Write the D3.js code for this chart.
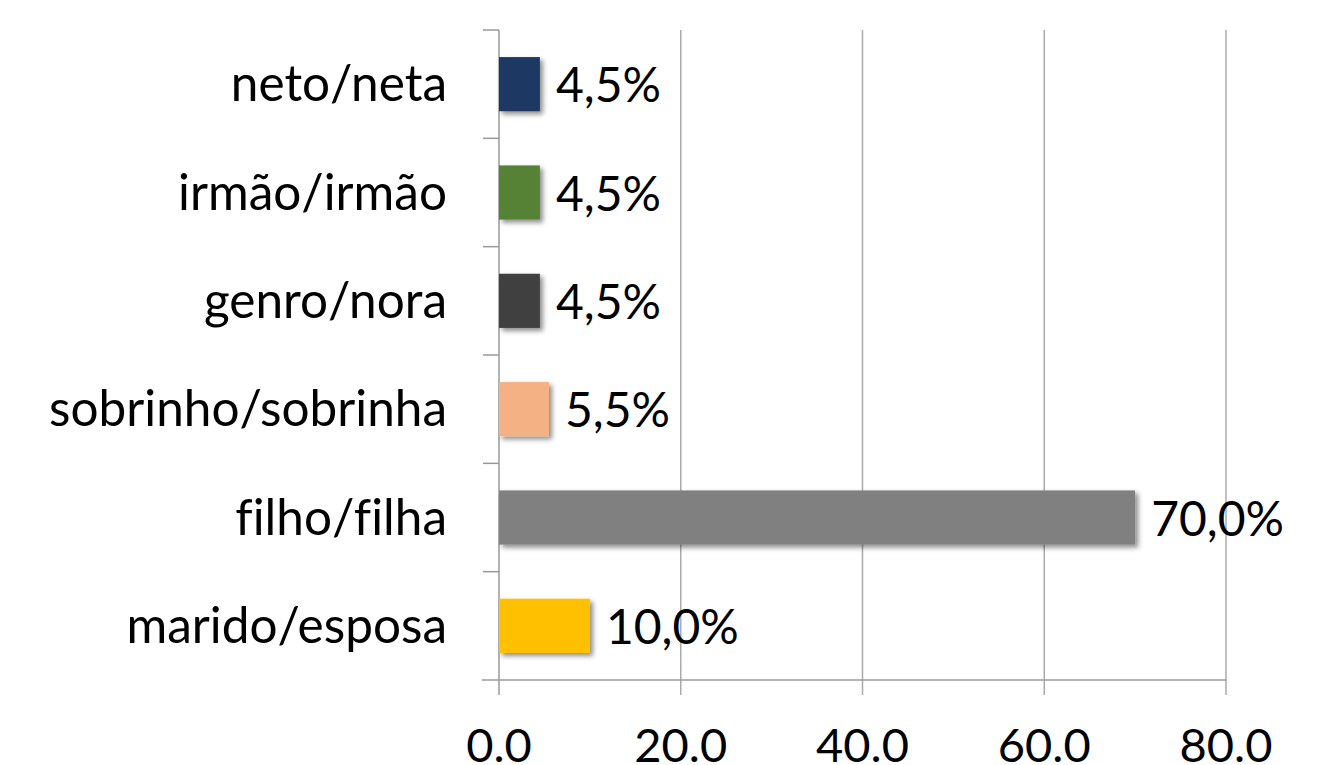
<!DOCTYPE html>
<html><head><meta charset="utf-8">
<script src="https://cdn.jsdelivr.net/npm/d3@7"></script>
<style>body{margin:0;background:#fff;}svg{display:block;}text{font-variant-ligatures:none;}</style>
</head><body>
<svg id="c" width="1319" height="765"></svg>
<script>
const categories = ["neto/neta","irmão/irmão","genro/nora","sobrinho/sobrinha","filho/filha","marido/esposa"];
const values = [4.5, 4.5, 4.5, 5.5, 70.0, 10.0];
const colors = ["#1F3864","#548235","#404040","#F4B183","#808080","#FFC000"];
const xTicks = [0, 20, 40, 60, 80];

const svg = d3.select("#c");
const font = "Lato, 'Open Sans', sans-serif";
const x = d3.scaleLinear().domain([0, 80]).range([499, 1226]);
const y = d3.scaleBand().domain(categories).range([30, 680]).paddingInner(0.5).paddingOuter(0.25);

const defs = svg.append("defs");
const f = defs.append("filter").attr("id","sh").attr("x","-20%").attr("y","-20%").attr("width","150%").attr("height","160%");
f.append("feDropShadow").attr("dx",3).attr("dy",3).attr("stdDeviation",2.5).attr("flood-color","#000").attr("flood-opacity",0.45);

// gridlines
svg.append("g").selectAll("line").data(xTicks.slice(1)).join("line")
  .attr("x1", d => x(d)).attr("x2", d => x(d)).attr("y1", 30).attr("y2", 695)
  .attr("stroke", "#ABABAB").attr("stroke-width", 1.5);

// bottom axis line and ticks
svg.append("line").attr("x1", 482).attr("x2", x(80)).attr("y1", 680).attr("y2", 680)
  .attr("stroke", "#9A9A9A").attr("stroke-width", 1.5);
svg.append("line").attr("x1", x(0)).attr("x2", x(0)).attr("y1", 30).attr("y2", 695)
  .attr("stroke", "#9A9A9A").attr("stroke-width", 1.5);

// category boundary ticks
const step = y.step();
const bounds = d3.range(categories.length).map(i => y(categories[i]) - y.paddingOuter()*step);
svg.append("g").selectAll("line").data(bounds).join("line")
  .attr("x1", 483).attr("x2", x(0)).attr("y1", d => d).attr("y2", d => d)
  .attr("stroke", "#9A9A9A").attr("stroke-width", 1.5);

// bars
svg.append("g").selectAll("rect").data(categories).join("rect")
  .attr("x", x(0)).attr("y", d => y(d))
  .attr("width", (d,i) => x(values[i]) - x(0)).attr("height", y.bandwidth())
  .attr("fill", (d,i) => colors[i]).attr("filter","url(#sh)");

// value labels
svg.append("g").selectAll("text").data(categories).join("text")
  .attr("x", (d,i) => x(values[i]) + 16).attr("y", d => y(d) + y.bandwidth()/2 + 18)
  .attr("font-family", font).attr("font-size", 48).attr("fill", "#000")
  .text((d,i) => values[i].toFixed(1).replace(".", ",") + "%");

// category labels
svg.append("g").selectAll("text").data(categories).join("text")
  .attr("x", 447).attr("y", d => y(d) + y.bandwidth()/2 + 17)
  .attr("text-anchor","end")
  .attr("font-family", font).attr("font-size", 49.5).attr("fill", "#000")
  .text(d => d);

// x tick labels
svg.append("g").selectAll("text").data(xTicks).join("text")
  .attr("x", d => x(d)).attr("y", 762).attr("text-anchor","middle")
  .attr("font-family", font).attr("font-size", 47).attr("fill", "#000")
  .text(d => d.toFixed(1));
</script>
</body></html>
